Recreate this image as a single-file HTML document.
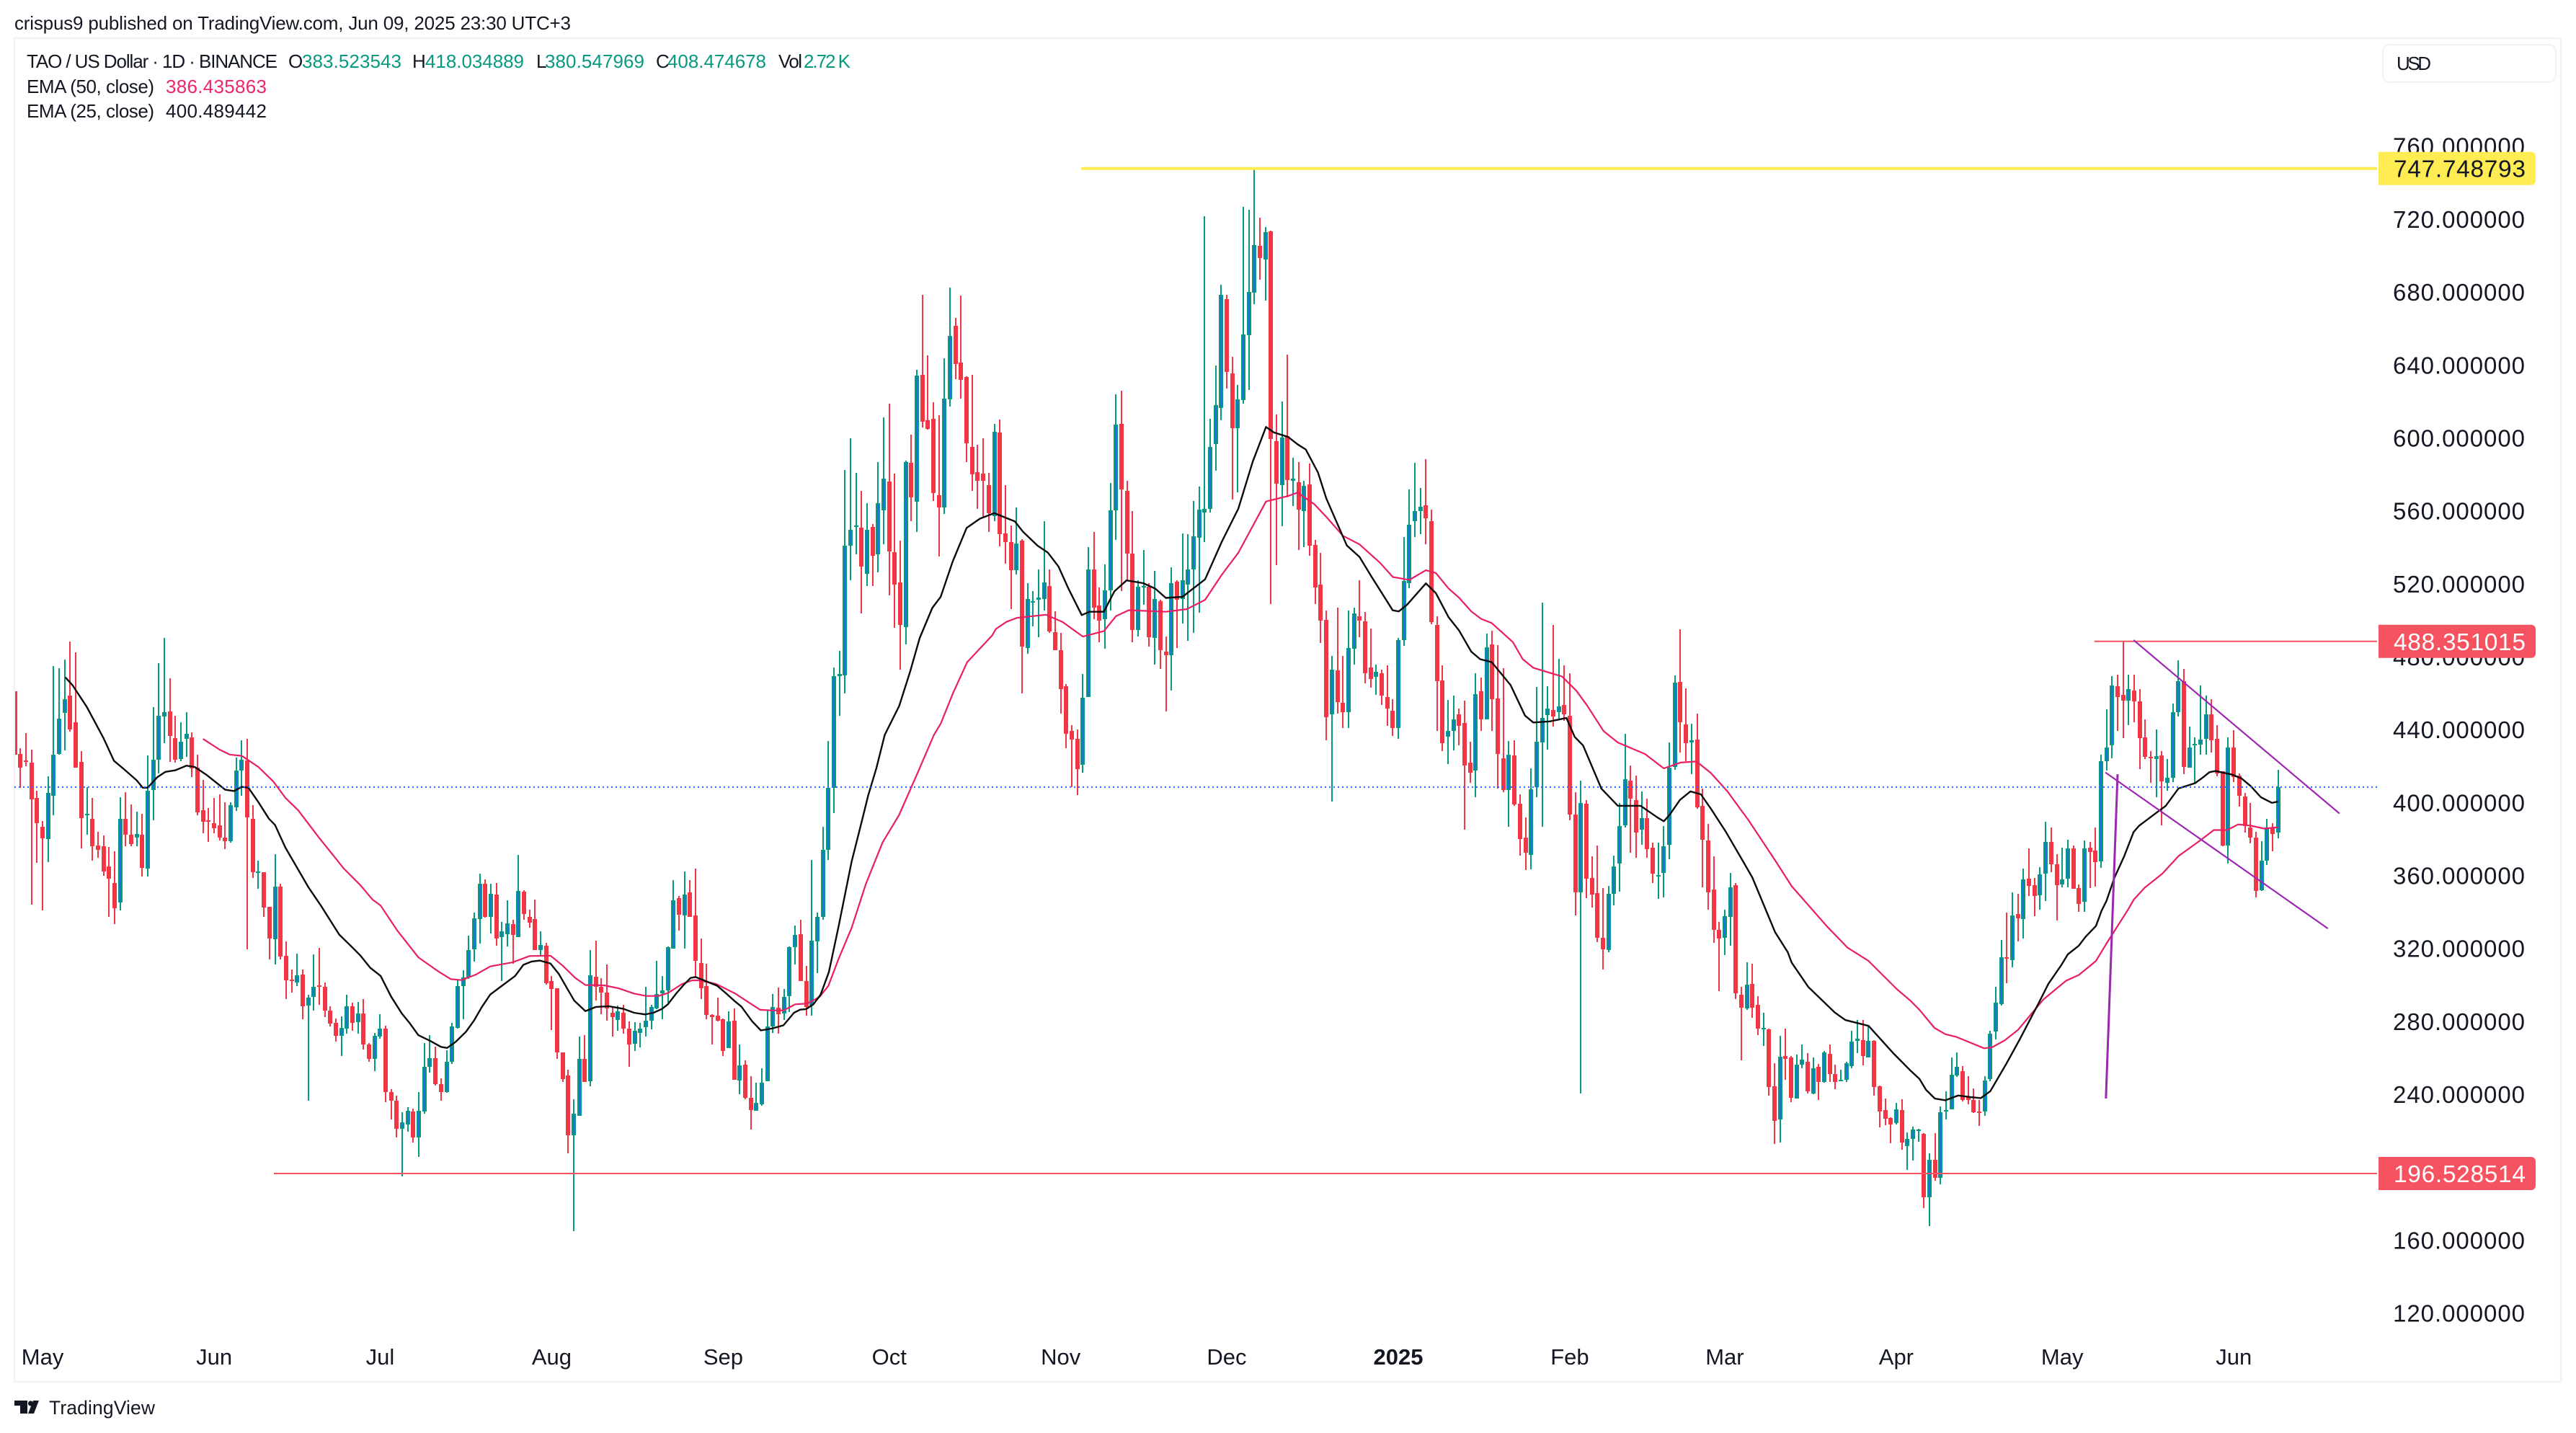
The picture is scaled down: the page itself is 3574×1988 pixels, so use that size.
<!DOCTYPE html>
<html lang="en">
<head>
<meta charset="utf-8">
<title>TAO / US Dollar 1D chart</title>
<style>
html,body{margin:0;padding:0;background:#fff;}
svg{display:block;font-family:"Liberation Sans",Arial,sans-serif;}
</style>
</head>
<body>
<svg id="chart" xmlns="http://www.w3.org/2000/svg" width="3574" height="1988" viewBox="0 0 3574 1988">
<defs><clipPath id="pane"><rect x="21" y="54" width="3531" height="1862"/></clipPath></defs>
<rect x="0" y="0" width="3574" height="1988" fill="#ffffff"/>
<rect x="20" y="53" width="3533" height="1864" fill="#ffffff" stroke="#f2f3f4" stroke-width="2.5"/>
<text x="20" y="41" font-size="26" fill="#131722" textLength="772" lengthAdjust="spacing">crispus9 published on TradingView.com, Jun 09, 2025 23:30 UTC+3</text>
<g id="legend" font-size="26" fill="#131722">
<text x="37" y="94" textLength="348" lengthAdjust="spacing">TAO / US Dollar · 1D · BINANCE</text>
<text x="400" y="94">O</text>
<text x="419" y="94" fill="#089981" textLength="138" lengthAdjust="spacing">383.523543</text>
<text x="572" y="94">H</text>
<text x="590" y="94" fill="#089981" textLength="137" lengthAdjust="spacing">418.034889</text>
<text x="744" y="94">L</text>
<text x="756" y="94" fill="#089981" textLength="138" lengthAdjust="spacing">380.547969</text>
<text x="910" y="94">C</text>
<text x="926" y="94" fill="#089981" textLength="137" lengthAdjust="spacing">408.474678</text>
<text x="1080" y="94" textLength="33" lengthAdjust="spacing">Vol</text>
<text x="1115" y="94" fill="#089981" textLength="65" lengthAdjust="spacing">2.72 K</text>
<text x="37" y="129" textLength="177" lengthAdjust="spacing">EMA (50, close)</text>
<text x="230" y="129" fill="#f0266a" textLength="140" lengthAdjust="spacing">386.435863</text>
<text x="37" y="163" textLength="177" lengthAdjust="spacing">EMA (25, close)</text>
<text x="230" y="163" textLength="140" lengthAdjust="spacing">400.489442</text>
</g>
<g id="yticks"></g>
<g id="xticks"></g>
<g id="candles" clip-path="url(#pane)" shape-rendering="crispEdges"></g>
<g id="emas" clip-path="url(#pane)"></g>
<g id="drawings"></g>
<rect x="3306" y="62" width="240" height="52" rx="10" fill="#ffffff" stroke="#f1f2f4" stroke-width="2"/>
<text x="3325" y="97" font-size="26" fill="#131722" textLength="48" lengthAdjust="spacing">USD</text>
<g>
<path d="M20 1943H38V1961H28V1950H20Z" fill="#131722"/>
<circle cx="42.5" cy="1947" r="3.6" fill="#131722"/>
<path d="M46 1943H54L47 1961H39Z" fill="#131722"/>
<text x="68" y="1962" font-size="26.5" fill="#131722" textLength="147" lengthAdjust="spacing">TradingView</text>
</g>
</svg>
<script>
const highs=[461,429.7,438.1,429,406.5,390,414.5,474.9,473.5,478.5,
488.2,482.3,428.1,408.6,402.5,383.9,382,375.7,373.2,402.9,
405.6,398.8,395,393.8,425.8,452.4,476.4,490.3,468.1,447.6,
444,449.4,438.5,426.3,412.4,396.8,402.5,404.3,400.2,400.2,
424.7,434.2,434.9,398.6,368.2,361.8,342.8,371.6,355.5,323.7,
308.5,317.1,308.3,294.7,316.7,320.3,301.2,288.3,281.5,282.9,
294.7,290.1,290.6,292.4,267.9,273.8,284,277.4,242.9,239.3,
230.2,232.9,232.2,241.1,268.1,272.4,266.3,248.6,264,279.2,
302.4,308,327.1,339.6,361,357.8,355.3,356,334.4,346.4,
335.5,371.4,351.9,341.2,346.9,329.4,323,304.7,298,262.9,
253.4,237.3,271.5,272.4,319.2,324.2,303.8,311.2,287.9,288.8,
289,279.9,279.4,279,298.8,288.9,313,304.7,320.9,357.5,
348.8,362.1,357.5,363.6,325.5,311.4,284,293,281.4,285.4,
287.1,267.3,258.6,249.9,246.3,254.3,285.7,295,298.5,297.7,
320.9,332.7,335.7,310.4,368.4,339.7,386.6,433.8,474,483.1,
582.3,599.9,580.8,570.8,564.2,552.7,586.9,611.1,618.7,580.5,
543.6,587.5,601.7,637.4,678.5,645.3,619.5,612.3,643.8,682.5,
665.8,678,633.8,634.4,596.3,599.9,580.8,607.5,610.2,573.9,
552.1,561.8,544.5,520.3,515.8,527.9,554.5,527.9,504.9,493.1,
465,442.3,440.1,470.4,540,548.2,517.9,530.6,575.4,623.8,
625.9,576.3,560,521.8,538.5,520.3,527,511.2,491,529.1,
521.8,547.6,547,565.4,573.2,721.5,610.5,639.7,684,678.5,
644.4,629,726.7,725.1,747.75,720.8,715.5,713.6,612.7,619.8,
645.6,589,586.7,576.3,585.8,544.2,536.9,505.4,480.2,507,
480.2,505.4,507,521.8,504.4,495.3,475.8,472.9,475.4,456.5,
490.2,545.7,571.6,586.4,572.5,588.3,560.5,502.2,475.1,456.2,
458.7,451.5,455.9,433.2,471,468.5,492.8,494.3,486.5,473.5,
433.8,434.2,404.5,391.9,418.7,463.5,509.8,463.8,497.5,478.9,
475.1,471,405.5,412.1,401.4,370.5,376.5,353.1,354.1,370.8,
399.8,437.6,420.3,414.6,406.1,402,377.8,377.8,387.2,432.9,
469.8,495,462.5,443.3,448.7,407.7,388.1,370.5,334.6,341.2,
361.4,355.7,299,312.5,311.5,293.6,284.5,275.9,257,271.9,
275.9,261.1,261.8,267.4,262.7,260.2,256.7,263.6,267.4,256.1,
253.3,258,275,280.7,280.7,277.5,269.6,244.7,237.5,227.4,
235.3,237.2,218.9,222.4,221.1,218.6,207.6,218.6,233.4,241.7,
260.2,262.8,255.6,249.9,243.2,237,250.1,274.8,298.8,324.6,
339.7,350.7,349.8,363.9,374.9,358.6,364.6,389.5,386.2,371.6,
375.4,379.7,376.6,355,379.2,378.5,386.4,426.2,451.1,469.5,
470,488.35,470,470,462.3,445.6,428.1,440,428.1,424,
454.4,477.9,473.1,441.5,435.7,464,458.5,456.8,442.4,417.3,
435.7,439.6,416.1,405.3,399.8,383.8,378.7,391,388.8,418.03];
const lows=[426.3,408.1,419.9,344.1,366.8,340.7,367.3,392.9,426.3,428.6,
438.8,419,374.8,382.3,368.2,369.8,360,337.4,333.3,340.7,
375.9,376.1,375.9,359.3,359.3,390.2,415.9,432.6,422.4,421.8,
422.7,424.9,414,392.9,383.2,378.4,383.2,379.1,374.3,378,
395.2,403.6,319.4,358.7,352.8,337.4,314,311,314,292.4,
295.6,299.2,281.3,236.4,286,289,282.2,277,269,260.9,
273.3,274.7,273.1,264.7,257.9,252.5,270.6,235.7,226.2,216.4,
195.1,219.3,213.6,205.5,229.3,252,244.7,236.6,240.7,256.5,
276,281,303.3,312.8,322.6,336.9,328,321.4,301.9,321.2,
311.7,326.4,335.5,331.4,319,316.2,300.1,275.4,259.3,246.6,
207.8,165,228,246.6,244.5,291.3,283.8,280.4,271.7,274.7,
273.1,254.9,263.9,265.8,271.8,275.7,286.7,281.3,290.4,319.7,
329.7,319.7,337.3,304.6,292.3,281.3,267.4,280.1,261,265.2,
248.1,240.2,237.3,220.8,231.1,233.7,247,273.8,273.2,280.7,
285.1,311.3,302.2,283.1,283.2,306.4,335.7,368.4,394.1,447.4,
459.8,521.8,536,503.7,518.8,518.8,526.4,541.5,513.7,495.8,
472.8,486.7,554.5,548.5,605.7,604.4,565.4,534.8,558.2,617.1,
632.2,621.7,586.6,570.8,561.2,555.7,548.5,554.2,540.6,530.9,
506.1,524.9,459.8,481.6,496.4,490.7,505.2,493.1,483.4,448.6,
429.6,408.3,403.9,416.5,457.7,500.7,488,484.3,505.2,543.9,
515.8,521.8,488,491,508.5,485.5,475.5,473.4,450.1,461.3,
484.9,498.2,488.5,493.1,504.3,543,559,582,609.8,627.2,
566,570,618.9,626.3,673.4,686.9,675.4,508.8,530,551.5,
567.2,562.7,538.5,540.1,535.3,508.9,487.4,434.2,400.4,448.7,
440.8,440.8,475.5,490.6,465.3,463.1,459,453.4,442,436.4,
435.1,486.1,517.4,545.7,547.3,541.6,497.8,439.2,428.2,420.9,
428.5,431.3,385,410.8,402.9,439.2,445.5,439.2,407.7,405.5,
386.6,398.2,370.8,362.9,363.5,402.9,386.6,428.8,441.7,445.5,
444.9,390.4,338,240.3,347.5,342.4,323.5,308.4,317.9,343.7,
351.3,386.2,372.4,369.5,376.8,369.5,355.7,347.2,348.1,368.9,
417.8,427.5,422.8,415.6,396.7,353.5,341.2,323.2,296.7,316.3,
321.6,292.3,258.6,286.3,281.9,272.5,266.5,239.1,212.9,213.5,
247.9,235.6,237.5,254.2,240.3,240,236.9,246.3,246.9,242.9,
247.3,246.6,254.2,262.7,255.8,260.2,239.1,221.7,223,213.2,
223.3,209.5,198.7,203.8,213.9,177.6,167.8,192.7,190.8,226.2,
231.7,249.7,236,234.6,229.8,222.6,228.1,247.2,270,288.7,
301.1,309.5,323.9,325.3,348.8,337.8,341.1,345.9,361.7,335.4,
353.4,353.6,352.6,340.2,340.2,353.1,353.8,364.1,417.5,424.2,
439.3,435.2,442.4,444.1,418.5,424,410.8,402.9,387.3,406.5,
411.3,447.2,415.4,419,409.9,426.2,426.2,427.3,414.2,375.9,
366.5,411.3,397.7,383.5,377.5,347.9,351.4,365.8,373.2,380.55];
const opens=[461,426.7,423.1,422,402.5,386.6,379.8,403.8,426.8,449,
458.7,444,422.2,393.4,391.1,376.4,375.9,365,356,345.1,
391.1,382.3,380.7,382.3,363.6,406.8,423.3,447,449.9,435.4,
424,435.1,435.8,419,395.6,390.2,388.6,387.5,380.7,378.6,
397.2,417.7,423.1,391.1,361.6,361.8,342.8,324.9,353.9,316,
302.8,301.2,305.6,288.5,293.3,299.7,298.8,286,279.2,272.2,
275.9,288.3,279.5,284.2,267.4,259.3,271.7,276,241.3,236.4,
220.9,223.6,230.7,216.2,230.4,255.2,259.7,245.6,241.3,257.7,
276.5,299.4,304.2,319.4,336,355.5,337.1,349.6,326.4,327.6,
333.2,326.4,351.2,337.1,336,319,321.4,301.9,298,262.9,
250.2,217.3,228,259.3,247.3,304.6,298.8,295.6,284.7,280.8,
284.7,276,267.6,273.5,276.7,280.5,286.9,295.5,297.1,320,
347.6,338.2,350.6,338.2,312,299.3,283.6,283.1,281.1,265.2,
280.3,247.4,256.2,238,231.1,234.6,247,277.1,287.5,284.4,
293.9,320.5,327.6,302.1,288.8,323.7,337.2,374.2,408.1,469.2,
469.8,540.9,551.2,550.6,525.5,551.2,536,560.3,576,537.3,
520.6,496.1,586.3,564.8,634.7,609.5,610.5,568.4,561.8,621.1,
661.3,641.3,633.5,595,581.2,580.5,573.9,557.2,602.9,547.6,
543,527.3,543.6,484.9,509.7,511.2,511.8,518.8,493.4,483.7,
463.8,439.2,435,420.8,457.7,527.9,508.2,500.4,516.4,560.3,
607.5,570.8,536.4,494.6,517.9,518.2,490.1,510.3,482.8,480.7,
521.2,511.8,519.4,527.9,545.1,559,561,596.5,616.5,676.1,
635.2,605.4,620.9,656.4,679.8,705.2,698,713.2,598,574,
600.8,576.6,575.7,559.9,574.4,541.3,519.6,500,448.4,472.3,
454.7,449.6,484.3,502.3,499.4,474.2,469.1,471,457.8,450.2,
440.8,489,520.2,554.2,559.9,563,554.2,497.5,466.9,436,
439.2,448.3,443.6,421.9,417.4,460.9,445.5,486.8,457.2,424.4,
407,426,399.2,380.9,371.1,408.3,432.9,448,450.9,449.6,
453.4,447.7,393.5,350.6,399.5,358.5,350.3,325.7,319.1,350,
366.4,387.5,412.1,401.4,385.3,391.3,375.2,359.8,361.4,376.8,
419.7,466,442.7,432.9,434.5,398.2,379.3,352.2,330.1,325.7,
337.4,354.7,294.5,287,300.5,289.2,275.6,275.6,244.4,226.1,
260.8,260.2,237.8,256.1,257.7,240.6,255.1,246.9,262.1,251,
247.6,247.9,255.5,269.3,269.6,260.2,269.3,244.4,231.2,227.1,
224.3,231.5,211.6,215.4,220.2,218.3,183.3,204.1,194,231,
231.9,250.4,252.8,238.9,237,230.7,230.5,248.5,274.3,289.4,
315,313.6,339,335.9,358.1,354.5,349.3,361,378.5,366.3,
355,358.4,374.9,353.1,345.5,375.4,373.7,367.7,422.8,431.2,
463.8,459,455.9,461.6,455.6,435.7,424.9,423.8,425.7,411,
413.7,449.6,466.4,419,431.7,431.7,434.8,448.2,434.8,417.3,
376.6,430.2,414.9,403.4,386.4,380.7,351.9,368,386.2,383.52];
const closes=[426.3,419.2,422.4,401.6,388.8,380.4,405.2,426.3,446,456.7,
439.9,419.2,391.6,394,375.9,374.1,362.3,358.2,341.9,391.1,
382.5,377.3,382.7,364.3,406.5,423.3,447.4,449.7,436.7,423.3,
433.5,437.6,418.8,394.5,389.5,389.7,385.9,380.7,378.6,398.6,
417.7,423.3,392,361.6,362.1,342.5,325.3,353.9,315.5,302.4,
302.4,305.3,288.1,293.1,299,299.2,285.8,278.8,272,276.3,
288.3,279.2,284.2,267.4,259.5,272,276,241.3,236.4,221.1,
224.8,231.1,216.2,231.1,255.2,259.7,245.6,241.3,257.7,277,
299.4,304.2,319.2,336.4,355.5,337.3,350,325.3,329.2,333.7,
327.3,351.4,338.7,334.2,319,321.9,300.8,297.6,262.9,248.2,
217.3,229.3,259.3,246.6,305.1,298.8,295.6,286.9,282.2,285.6,
275.9,267.2,274.8,275.9,280.2,287.7,294.8,296.8,320.7,346.3,
338.5,349.4,337.3,313.1,298.3,283.6,282.5,280.3,263.9,279.8,
248.1,255.7,238,231.3,235.3,246.2,277.1,287.7,284,293.3,
320.5,327.3,302.2,288,324.2,337.2,374.2,408.1,469.5,470.4,
540.9,549.7,551.8,529.4,549.7,535.4,564.2,577.5,537.9,519.4,
497.3,586.9,567.2,634.1,609,605,569.6,562,621.7,655.9,
640.4,631.7,597.2,580.2,576.3,576.3,558.8,603.5,547,542.7,
527.3,542.1,485.5,511.5,510.3,512.4,520.6,493.7,483.4,462.2,
437.7,434.7,418.4,457.4,527.9,506.7,499.8,516.4,560.3,607.2,
571.8,536.4,494.6,518.2,518.8,490.7,511.5,483.4,480.7,520.3,
511.2,521.8,527.9,546,560.6,561,595,618,678.3,636.3,
605.4,621,656.6,679.9,705.6,698.8,713,599.5,575,600,
576.9,577.5,560.5,573.8,540.7,518,499.7,446.8,472.9,455,
449.6,484.6,503.8,499.7,471,467.6,471.7,458.7,451.5,440.8,
489,521.4,552.3,559.9,562.4,555.8,499.1,466.6,432.6,439.2,
445.5,442,420.3,416.5,459.4,445.5,485.2,456.5,426.6,406.7,
426.3,398.9,379.9,372.4,407.4,433.2,446.4,451.5,447.1,452.8,
448.3,393.5,350.6,399.8,358.2,349.7,325.7,319.4,350,365.1,
387.2,412.7,402.3,383.4,391.3,374.6,361,360.4,375.9,419.3,
465.7,443.9,432.6,434.2,397.3,379.6,350.9,330.1,325.4,337.7,
353.5,295.2,287.6,300.2,287.3,275.9,276.2,243.8,225.2,260.5,
259.5,238.1,256.1,258.9,241.6,254.2,246.6,263,251,246.6,
247.9,257,268.7,270.3,261.1,269.3,244.1,230.6,226.5,223.3,
231.8,213.5,215.7,220.5,220.8,183.3,204.1,194,230.2,231.4,
250.6,254.9,237,237,230.2,230.2,247.7,273.4,290.1,315.3,
314.3,338.2,336.3,357.9,354.3,348.8,360.5,378.5,366.3,354.5,
357.7,374.9,352.6,344.3,374.9,373,367.2,422.8,430,464.2,
458,455.9,462.1,455.6,435.5,424.9,424.2,425.4,411.5,413.7,
449.6,466.4,419.7,430,432.2,434.5,448.2,434.3,416.1,376.6,
430.2,413.9,403.6,386.9,380.7,351.4,368,386.2,382.6,408.47];

const ema25Days=[9.1,10.4,13,16,17.9,19.7,22,23.1,24,25.7,27.2,29,31,32.5,34.7,36.6,38,39.6,41,42.2,44,45.9,47,48.9,51.5,53,55.3,58.6,60.9,62.4,64.2,66.1,68,69.9,71.4,72.9,75.1,77,78.1,79.6,81.5,83,84.4,85.9,88.2,90.4,91.9,93.4,94.9,96.8,98.3,99.8,101.1,103.1,105,107.3,109.9,111.9,113.9,115.4,116.9,118,119.5,120.8,122.1,123,124.5,126.9,128.2,130,131.3,133.2,134.8,136.9,138.9,140.8,141.9,143,144.3,145.6,147.1,148.9,151.2,153.1,154.2,155.7,157.2,159.8,161.8,163.5,165.8,167.3,169.5,172,174.4,177,180.7,182.2,184.8,186.7,188.6,190.4,192.8,194.2,196.8,198.7,200.9,203.9,206.1,208,211,215.1,218.1,221.1,223.7,226.1,227.5,230.1,231.8,233.3,235.5,237,240.7,243,245.2,249,250.1,251.6,255,256.8,259.1,261,263.2,264.8,266.9,270.3,272.9,274.4,277.4,280.4,281.9,283.4,286.7,289.7,293.8,296.8,298,299.1,300.9,302.8,304.7,306.5,309.2,312.2,314,318.1,320.4,321.1,324.1,328.9,330.8,335,339.4,342.5,344.2,345.4,347,348.9,351.2,353.5,355.3,357,359.9,362.3,365.8,367.5,369.8,371,373,374.2,376.1,377.1,378,379.4,381.2,382.9,383.9,387.6,388.7,391,394,395.4,396.6,397.7,400.6,402.4,404.1,405.9,407.9,409];
const ema25Values=[468.7,464.4,452.4,435.4,422.9,418.3,412.2,408.1,408.1,413.8,416.8,417.7,420.2,419.5,415,410.4,407,406.3,408.6,408.1,400.2,391.1,387.7,375.2,361.6,353.7,343.5,327.6,320.8,316.2,309.4,304.9,293.5,284.4,278.8,272.4,269.2,266,265.4,268.6,274.2,280.6,287.9,294.7,299.9,304.9,311,312.8,313.3,311.7,306,298,291.3,285.6,287.9,288.3,286.9,284.7,283.8,284.7,286.7,289.3,295.2,299.8,303.8,304.3,302.5,299.5,296.2,291.3,288,280.1,275,276.1,277.8,284.7,286.4,286.7,289.3,294.6,307,332.7,367.5,390.2,403.8,419,437.1,452.9,471.9,490.1,506.7,512.8,532.4,550.6,555.7,558.7,554.2,548.5,540.9,537,529.4,517.3,502.8,504.6,504.6,515.8,521.8,520.3,517.3,512.2,512.8,522.4,543,561.2,586.9,606,603,600.5,596.5,593.6,581,566.8,541,534.7,523.7,505.4,504.8,508.5,520.2,514.8,501.6,494.3,482.7,478.6,477,464.4,447.7,443.9,444.5,446.4,436,431.3,407.7,398.2,398.2,391.9,389.7,393.5,401.4,406.1,404.5,396.6,384,368.3,358.8,328.9,317.9,312.2,298.9,284.8,280.7,277.5,262.7,253.2,248.4,242.4,237.6,236.7,239.3,238.4,237.9,241.7,256.8,270,290.3,300.6,310.7,316.7,321.5,326.3,332.3,340.6,346.1,358.6,370.6,383.8,387.3,395.7,398.1,407.7,410.6,413.7,416.6,417.3,415.4,413.2,408.9,402.9,399.8,400.49];

const ema50Days=[34,37,38.8,41,44,46.7,48.9,51.2,54.9,59.4,62.4,64.6,66.1,69.1,72.9,76.6,78.8,80.7,83.3,85.9,90,93,96.8,99,101.3,103.1,106.5,109.1,111.9,114.1,116.3,118,120.6,122.4,123.7,126.7,130.2,132.8,134.7,136.7,138.9,140.2,141,143.2,145.4,147,148.9,151.2,153.8,156.8,159.8,163.1,166.1,167.3,169.5,172.1,176.6,177.3,179.2,181.1,186.3,189.3,193,196.8,199,201.3,208,211.8,215.1,218.1,221.1,226.1,230.1,231.8,234.8,237,240,243,246.7,249,252,255,256.8,259.1,261,263.2,265,266.9,270.7,272.5,274.4,279.6,282.2,284.1,287.1,289.7,294.6,298,301,303.9,306.5,309.5,313.3,318.1,321.1,327.5,331.2,335,340.2,342.5,344.2,346.9,348.9,350.9,355.9,357.3,359.6,362,366.6,370.7,373,376.1,378,382,382.9,384.9,388.1,391,394.8,397.4,399.8,401.8,404.1,406.5,409];
const ema50Values=[434.9,429,426.3,425.6,419.5,411.5,402.5,395.7,380.9,363.9,354.8,346.9,343.5,329.8,315.1,307.2,303.1,302.6,305.6,310.1,312.4,315.8,316,310.5,303.7,299.9,299.7,298.1,295.2,293.9,293.9,295.5,300.5,302.5,302.5,300.5,295.2,290,286.3,286,286,288,289.3,289.8,293.3,299.4,314.6,331.2,355.4,378.1,393.2,416,437.1,443.2,459.8,477,491.6,495.2,499.1,501.3,503,499.1,491,494,502.2,505.5,504.6,506.1,511.2,524.9,537,565.1,568.1,570,563.7,556.7,546.3,541.6,531.5,523.7,522.1,527.4,525.9,517.4,512.3,504.8,500.7,498.4,488,478.6,473.9,469.1,461.3,453.4,439.2,432.9,426.6,418.7,421.9,422.5,416.2,406.1,390.3,368.3,354.1,332,320.4,313.1,297.4,291.5,286.3,276.4,272.9,271.4,265.2,265.7,269.5,275.3,292,302.3,305.4,313.1,322.7,341.8,346.6,353.3,361,370.6,378.9,384.9,384.9,388,387.3,385.7,386.44];

const yTickValues=[760,720,680,640,600,560,520,480,440,400,360,320,280,240,200,160,120];
const monthLabels=["May","Jun","Jul","Aug","Sep","Oct","Nov","Dec","2025","Feb","Mar","Apr","May","Jun"];
const monthDays=[5,36,66,97,128,158,189,219,250,281,309,340,370,401];
const levelPrices=[747.748793,488.351015,196.528514];
const levelStartDays=[192.7,375.8,46.8];
const lastPrice=408.474678;
const channelUpperDays=[382.9,420.1];
const channelUpperPrices=[489.1,394];
const channelLowerDays=[377.8,418];
const channelLowerPrices=[416.5,330.9];
const steepLineDays=[380,377.9];
const steepLinePrices=[415.5,237.7];

const SVGNS='http://www.w3.org/2000/svg';
function xOf(d){return 20.7+7.677*d;}
function yOf(p){return 233.7+(747.75-p)*2.5295;}
function make(tag,attrs,parent){
  const el=document.createElementNS(SVGNS,tag);
  for(const k in attrs){el.setAttribute(k,attrs[k]);}
  parent.appendChild(el);
  return el;
}
function polyPoints(days,values){
  return days.map(function(d,i){return xOf(d).toFixed(1)+','+yOf(values[i]).toFixed(1);}).join(' ');
}

const yG=document.getElementById('yticks');
yTickValues.forEach(function(v){
  const t=make('text',{x:3320,y:(yOf(v)+12).toFixed(1),'font-size':33,fill:'#131722',textLength:183,lengthAdjust:'spacing'},yG);
  
  
  t.textContent=v.toFixed(6);
});

const xG=document.getElementById('xticks');
monthLabels.forEach(function(label,i){
  const bold=label==='2025';
  const t=make('text',{x:xOf(monthDays[i]).toFixed(1),y:1893,'font-size':31,fill:'#131722','text-anchor':'middle','font-weight':bold?'bold':'normal'},xG);
  
  
  t.textContent=label;
});

const cG=document.getElementById('candles');
opens.forEach(function(o,i){
  const c=closes[i];
  const up=c>=o;
  const cx=Math.round(xOf(i));
  const top=Math.round(yOf(Math.max(o,c)));
  const bot=Math.max(top+2,Math.round(yOf(Math.min(o,c))));
  const hi=Math.round(yOf(highs[i]));
  const lo=Math.round(yOf(lows[i]));
  const g=make('g',{},cG);
  
  
  const col=up?'#089981':'#f23645';
  const wick=make('rect',{x:cx-1,y:hi,width:2,height:Math.max(1,lo-hi),fill:col},g);
  
  
  const body=make('rect',{x:cx-3,y:top,width:6,height:bot-top,fill:col},g);
  
  
  if(up&&bot-top>4){
    const inner=make('rect',{x:cx-1,y:top+2,width:2,height:bot-top-4,fill:'#1e70dc'},g);
    
    
  }
});

const eG=document.getElementById('emas');
const ema50Line=make('polyline',{points:polyPoints(ema50Days,ema50Values),fill:'none',stroke:'#e91e63','stroke-width':2.2,'stroke-linejoin':'round'},eG);


const ema25Line=make('polyline',{points:polyPoints(ema25Days,ema25Values),fill:'none',stroke:'#0b0b0b','stroke-width':2.4,'stroke-linejoin':'round'},eG);



const dG=document.getElementById('drawings');
const lastLine=make('line',{x1:20,x2:3298,y1:yOf(lastPrice).toFixed(1),y2:yOf(lastPrice).toFixed(1),stroke:'#2962ff','stroke-width':2,'stroke-dasharray':'2 4'},dG);



const levelColors=['#ffeb52','#f7525f','#f7525f'];
const levelWidths=[4,2,2];
levelPrices.forEach(function(p,i){
  const y=yOf(p);
  const ln=make('line',{x1:xOf(levelStartDays[i]).toFixed(1),x2:3298,y1:y.toFixed(1),y2:y.toFixed(1),stroke:levelColors[i],'stroke-width':levelWidths[i]},dG);
  
  
});

const upper=make('polyline',{points:polyPoints(channelUpperDays,channelUpperPrices),fill:'none',stroke:'#9c27b0','stroke-width':2.2},dG);


const lower=make('polyline',{points:polyPoints(channelLowerDays,channelLowerPrices),fill:'none',stroke:'#9c27b0','stroke-width':2.2},dG);


const steep=make('polyline',{points:polyPoints(steepLineDays,steepLinePrices),fill:'none',stroke:'#9c27b0','stroke-width':3},dG);



levelPrices.forEach(function(p,i){
  const y=yOf(p);
  const t=(y-23).toFixed(1);
  const b=y+23;
  const tag=make('path',{d:'M3300 '+t+'H3512a6 6 0 0 1 6 6V'+(b-6).toFixed(1)+'a6 6 0 0 1 -6 6H3300Z',fill:levelColors[i]},dG);
  
  
  const label=make('text',{x:3321,y:(y+12).toFixed(1),'font-size':33.5,fill:i===0?'#131722':'#ffffff',textLength:183,lengthAdjust:'spacing'},dG);
  
  
  label.textContent=p.toFixed(6);
});
</script>
</body>
</html>
